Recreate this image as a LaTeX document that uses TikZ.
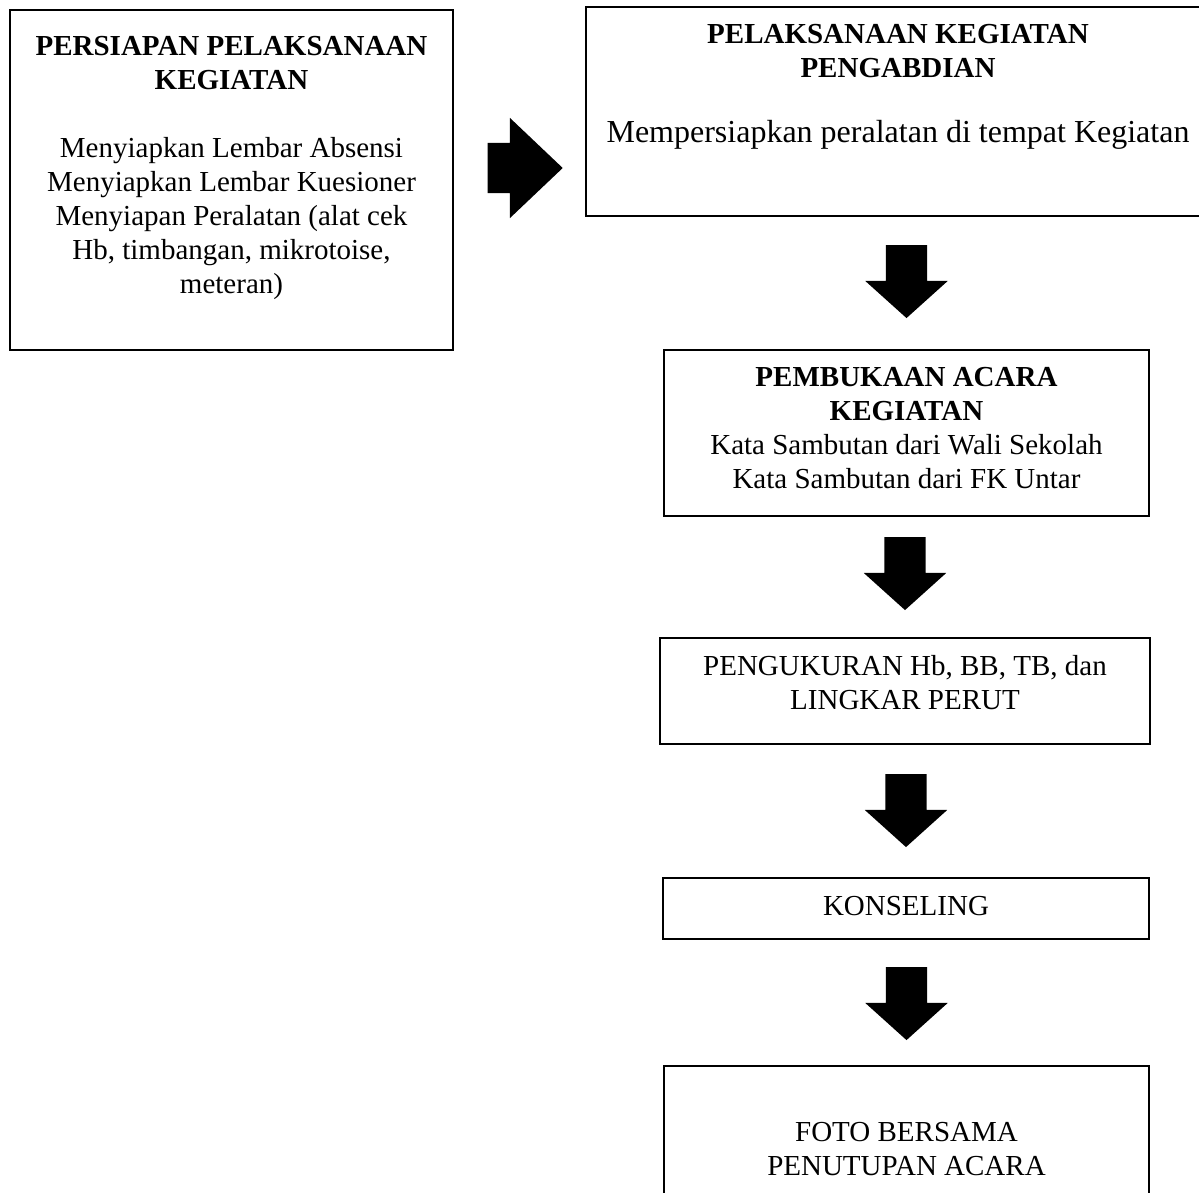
\documentclass[tikz,border=0pt]{standalone}
\usepackage{fontspec}
\setmainfont{Liberation Serif}
\usetikzlibrary{positioning,calc,shapes.arrows}
\tikzset{
  box/.style={draw=black,line width=1.3pt,inner sep=0pt},
  txt/.style={align=center,inner sep=0pt,font=\fontsize{29}{34}\selectfont},
  downarr/.style={single arrow,fill=black,draw=none,inner xsep=20.5pt,inner ysep=0pt,shape border rotate=270,minimum height=73pt,single arrow head extend=20.5pt,single arrow tip angle=96,anchor=tip},
  rightarr/.style={single arrow,fill=black,draw=none,inner xsep=0pt,inner ysep=25pt,minimum height=75pt,single arrow head extend=25pt,single arrow tip angle=87,anchor=tip},
}

\begin{document}
\begin{tikzpicture}[x=1pt,y=1pt]
\useasboundingbox (0,0) rectangle (1199,-1193);
\clip (0,0) rectangle (1199,-1193);
% boxes
\node[box,minimum width=443pt,minimum height=340pt] (L) at (231.5,-180) {};
\node[box,minimum width=624pt,minimum height=209pt] (T) at (898,-111.5) {};
\node[box,minimum width=485pt,minimum height=166pt] (P) at (906.5,-433) {};
\node[box,minimum width=490pt,minimum height=106pt] (U) at (905,-691) {};
\node[box,minimum width=486pt,minimum height=61pt] (K) at (906,-908.5) {};
\node[box,minimum width=485pt,minimum height=184pt] (F) at (906.5,-1158) {};
% texts
\node[txt,below=27pt of L.north] (Lt) {\textbf{PERSIAPAN PELAKSANAAN}\\\textbf{KEGIATAN}\\[34pt]Menyiapkan Lembar Absensi\\Menyiapkan Lembar Kuesioner\\Menyiapan Peralatan (alat cek\\Hb, timbangan, mikrotoise,\\meteran)};
\node[txt,below=18pt of T.north] (Tt) {\textbf{PELAKSANAAN KEGIATAN}\\\textbf{PENGABDIAN}\\[30.8pt]{\fontsize{32}{34}\selectfont Mempersiapkan peralatan di tempat Kegiatan}};
\node[txt,below=18pt of P.north] (Pt) {\textbf{PEMBUKAAN ACARA}\\\textbf{KEGIATAN}\\Kata Sambutan dari Wali Sekolah\\Kata Sambutan dari FK Untar};
\node[txt,below=18pt of U.north] (Ut) {PENGUKURAN Hb, BB, TB, dan\\LINGKAR PERUT};
\node[txt,below=19pt of K.north] (Kt) {KONSELING};
\node[txt,below=57pt of F.north] (Ft) {FOTO BERSAMA\\PENUTUPAN ACARA};
% block arrows
\node[rightarr] (r1) at (563,-168) {};
\foreach \b/\n/\g in {P/d1/31,U/d2/27,K/d3/30,F/d4/25}{\node[downarr] (\n) at ($(\b.north)+(0,\g)$) {};}
\end{tikzpicture}
\end{document}
